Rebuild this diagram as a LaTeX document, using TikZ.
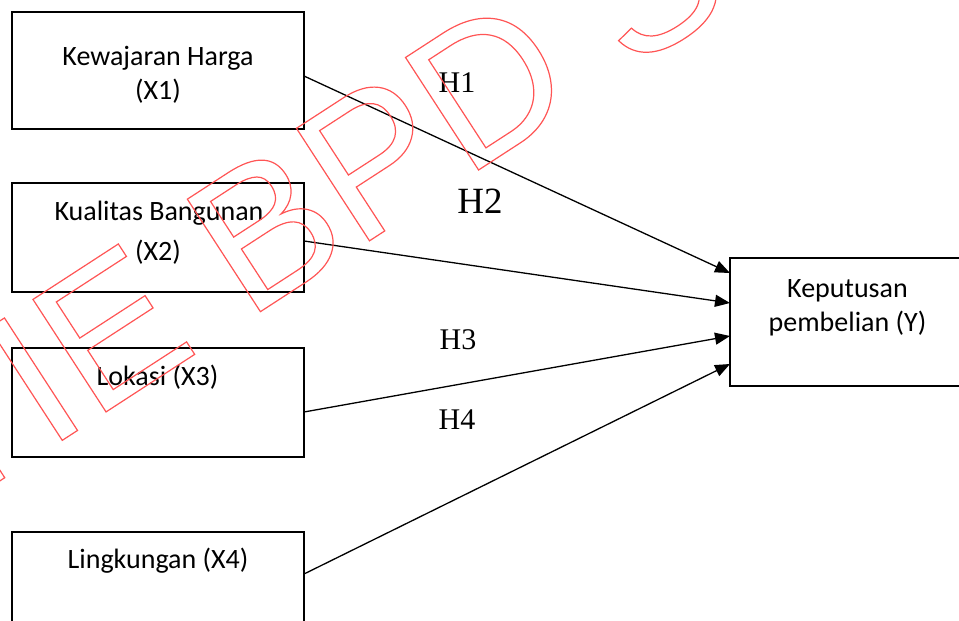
\documentclass[tikz,border=0pt]{standalone}
\usepackage{fontspec}
\setmainfont{Carlito}
\newfontfamily\tnr{Liberation Serif}
\newfontfamily\wmfont{Liberation Sans}
\usetikzlibrary{arrows.meta}
\definecolor{wmred}{RGB}{255,85,85}
\tikzset{
  box/.style={draw=black, line width=1.6pt, inner sep=0pt, outer sep=0pt, fill=none},
  boxtxt/.style={anchor=base, inner sep=0pt, font=\fontsize{28}{34}\selectfont},
  hlab/.style={anchor=base, inner sep=0pt, font=\tnr\fontsize{30}{36}\selectfont},
  conn/.style={line width=1.3pt, -{Triangle[length=15pt,width=12pt]}},
  wmark/.style={anchor=base west, inner sep=0pt, rotate=33, text=wmred}
}
\begin{document}
\begin{tikzpicture}[x=1pt,y=-1pt]
\useasboundingbox (0,0) rectangle (959,621);
\clip (0,0) rectangle (959,621);
% boxes
\node[box, minimum width=292pt, minimum height=117pt] (x1) at (158,70.5) {};
\node[box, minimum width=292pt, minimum height=109pt] (x2) at (158,237.5) {};
\node[box, minimum width=292pt, minimum height=109pt] (x3) at (158,402.5) {};
\node[box, minimum width=292pt, minimum height=109pt] (x4) at (158,586.5) {};
\node[box, minimum width=260pt, minimum height=128pt] (y) at (860,322) {};
% box texts
\node[boxtxt] (t1a) at (158,65) {Kewajaran Harga};
\node[boxtxt] (t1b) at (158,99) {(X1)};
\node[boxtxt] (t2a) at (159,220) {Kualitas Bangunan};
\node[boxtxt] (t2b) at (158,260) {(X2)};
\node[boxtxt] (t3) at (157.5,385) {Lokasi (X3)};
\node[boxtxt] (t4) at (158,568) {Lingkungan (X4)};
\node[boxtxt] (ty1) at (847.5,297) {Keputusan};
\node[boxtxt] (ty2) at (847.5,331) {pembelian (Y)};
% connectors
\draw[conn] ([yshift=-5.5pt]x1.east) -- ([yshift=49pt]y.west);
\draw[conn] ([yshift=-3.5pt]x2.east) -- ([yshift=19pt]y.west);
\draw[conn] ([yshift=-9.5pt]x3.east) -- ([yshift=-14pt]y.west);
\draw[conn] ([yshift=12.5pt]x4.east) -- ([yshift=-42pt]y.west);
% hypothesis labels
\node[hlab] (h1) at (457,92) {H1};
\node[hlab, font=\tnr\fontsize{37}{44}\selectfont] (h2) at (480,213) {H2};
\node[hlab] (h3) at (458,349) {H3};
\node[hlab] (h4) at (457,429) {H4};
% watermark (outlined text)
\node[wmark] (wm) at (-162,586) {\special{pdf:literal direct 1 Tr 1.2 w}\wmfont\fontsize{195}{195}\selectfont STIE BPD SEMARANG\special{pdf:literal direct 0 Tr}};
\end{tikzpicture}
\end{document}
